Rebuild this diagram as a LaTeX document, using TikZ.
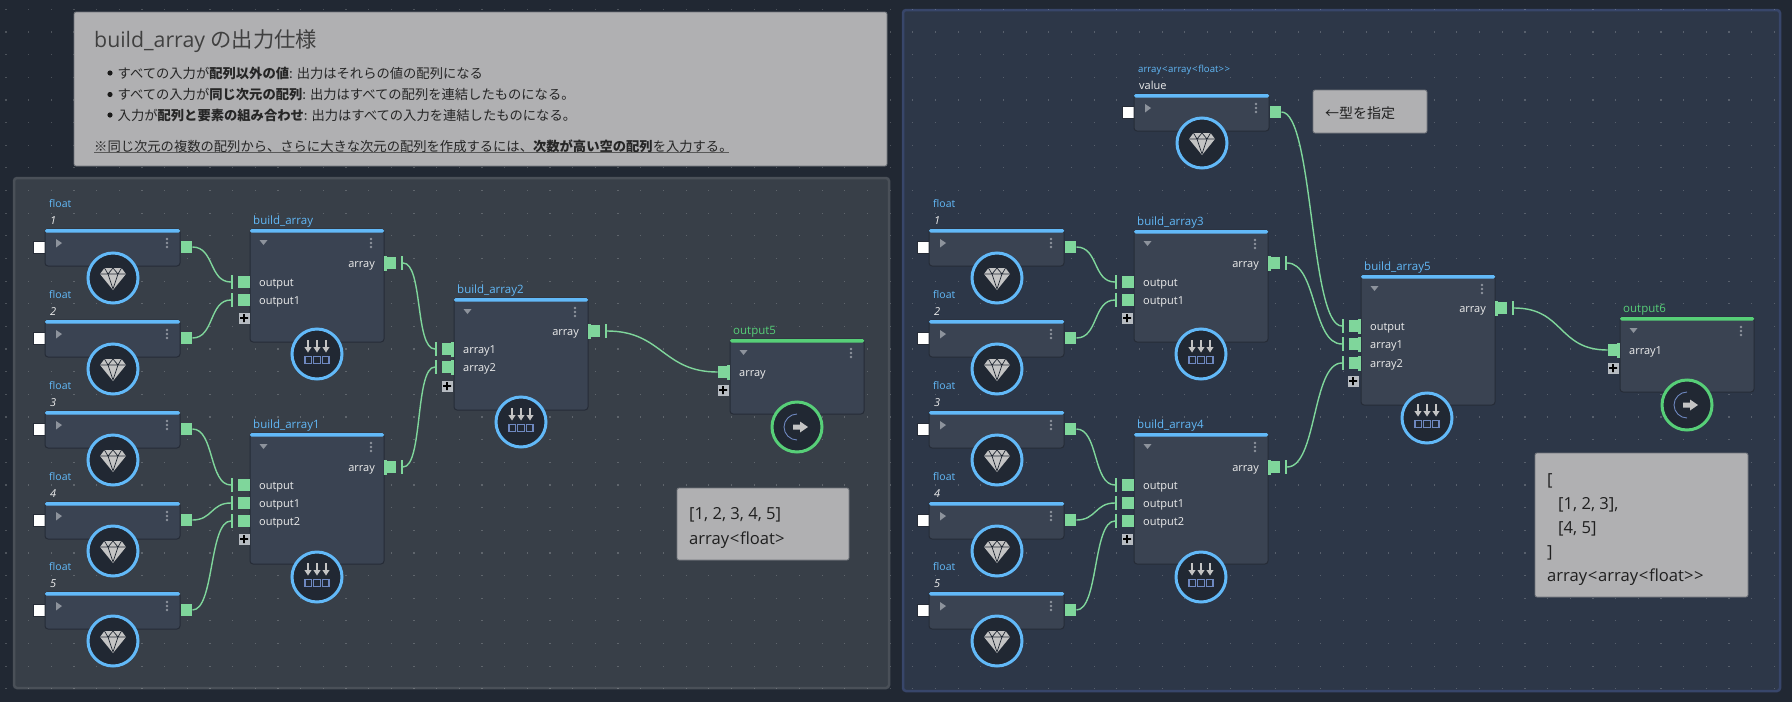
\documentclass[tikz,border=0pt]{standalone}
\usepackage{fontspec}
\setmainfont{Open Sans}
\newfontfamily\jp{Noto Sans CJK JP}
\definecolor{bgc}{HTML}{212833}
\definecolor{lpanel}{HTML}{383F48}
\definecolor{rpanel}{HTML}{2D3748}
\definecolor{lborder}{HTML}{4A5058}
\definecolor{rborder}{HTML}{38466A}
\definecolor{body}{HTML}{3A4352}
\definecolor{edge}{HTML}{262C37}
\definecolor{blu}{HTML}{62B9F8}
\definecolor{grn}{HTML}{57CF78}
\definecolor{port}{HTML}{7FD69B}
\definecolor{note}{HTML}{B0B0B2}
\definecolor{notee}{HTML}{70747A}
\definecolor{iconb}{HTML}{6E88C0}
\definecolor{icong}{HTML}{C4C4C4}
\definecolor{mut}{HTML}{8D939C}
\definecolor{ink}{HTML}{EDEDED}
\definecolor{plusbg}{HTML}{B6BBC1}
\newcommand{\gt}{{>}\kern.7pt}
\newcommand{\lt}{\kern.7pt{<}\kern.7pt}
\tikzset{
  boxbody/.style={rectangle,rounded corners=3,fill=body,draw=edge,line width=1,inner sep=0},
  whitesq/.style={rectangle,fill=white,draw=edge,line width=.4,minimum size=12,inner sep=0},
  sq/.style={rectangle,fill=port,minimum size=11.5,inner sep=0},
  tickm/.style={rectangle,fill=port,minimum width=1.8,minimum height=14,inner sep=0},
  plus/.style={rectangle,fill=plusbg,minimum size=11,inner sep=0},
  wire/.style={draw=port,line width=1.4},
  hub/.style={circle,fill=bgc,line width=3,minimum size=50,inner sep=0},
  lab/.style={text=ink,inner sep=0,anchor=base west,font=\fontsize{11}{12}\selectfont},
  labr/.style={lab,anchor=base east},
  typel/.style={text=blu,inner sep=0,anchor=base west,font=\fontsize{10.5}{12}\selectfont},
  titleb/.style={text=blu,inner sep=0,anchor=base west,font=\fontsize{11.5}{13}\selectfont},
  titleg/.style={text=grn,inner sep=0,anchor=base west,font=\fontsize{11.5}{13}\selectfont},
  notebox/.style={rectangle,rounded corners=2,fill=note,draw=notee,line width=.8,inner sep=0},
  notet/.style={text=black!88,inner sep=0,anchor=base west,font=\fontsize{16.6}{18}\selectfont},
  toptext/.style={text=black!85,inner sep=0,anchor=base west,font=\jp\fontsize{13.3}{15}\selectfont},
}
\newcommand{\nodebox}[6]{%
  \node[boxbody,minimum width=#4,minimum height=#5] (#1) at ({#2+#4/2},{#3+#5/2}) {};
  \fill[#6,rounded corners=1.5] (#2,#3) rectangle ({#2+#4},{#3+3.5});
  \fill[mut] ({#2+#4-13},{#3+10}) circle (1.3) ({#2+#4-13},{#3+14}) circle (1.3) ({#2+#4-13},{#3+18}) circle (1.3);
}
\newcommand{\tridown}[2]{\fill[mut] ({#1+9.5},{#2+11}) -- ({#1+17.5},{#2+11}) -- ({#1+13.5},{#2+16}) -- cycle;}
\newcommand{\triright}[2]{\fill[mut] ({#1+11},{#2+10}) -- ({#1+17},{#2+14}) -- ({#1+11},{#2+18.5}) -- cycle;}
\newcommand{\diamondicon}[3]{%
  \node[hub,draw=blu] (#1) at (#2,#3) {};
  \begin{scope}[shift={(#2,#3)}]
    \fill[icong] (-8.5,-10) -- (8.5,-10) -- (13,-4) -- (0,12) -- (-13,-4) -- cycle;
    \draw[bgc,line width=.7,line join=round] (-13,-4) -- (13,-4) (-5,-4) -- (0,11) -- (5,-4) (-8.5,-10) -- (-5,-4) -- (0,-10) -- (5,-4) -- (8.5,-10);
  \end{scope}
}
\newcommand{\arrayicon}[3]{%
  \node[hub,draw=blu] (#1) at (#2,#3) {};
  \begin{scope}[shift={(#2,#3)}]
    \foreach \dx in {-9,0,9}{
      \fill[icong] ({\dx-1},-14) rectangle ({\dx+1},-7);
      \fill[icong] ({\dx-3.6},-7) -- ({\dx+3.6},-7) -- (\dx,-1.5) -- cycle;
    }
    \foreach \dx in {-8.7,0,8.7}{
      \draw[iconb,line width=1.1] ({\dx-3.3},2.5) rectangle ({\dx+3.3},9.5);
    }
  \end{scope}
}
\newcommand{\outputicon}[3]{%
  \node[hub,draw=grn] (#1) at (#2,#3) {};
  \begin{scope}[shift={(#2,#3)}]
    \draw[iconb,line width=.9] (0,-13) .. controls (-7,-13) and (-13,-7) .. (-13,0) .. controls (-13,7) and (-7,13) .. (0,13);
    \fill[icong] (-4,-2.5) -- (3,-2.5) -- (3,-5.5) -- (11,0) -- (3,5.5) -- (3,2.5) -- (-4,2.5) -- cycle;
  \end{scope}
}
\newcommand{\floatnode}[5]{%
  \node[whitesq] (#1in) at ({#2-6},{#3+18}) {};
  \nodebox{#1}{#2}{#3}{135}{37}{blu}
  \triright{#2}{#3}
  \node[sq] (#1out) at ({#2+141.5},{#3+18}) {};
  \diamondicon{#1hub}{#2+68}{#3+49}
  \node[typel] at ({#2+4},{#3-22}) {#4};
  \node[lab] at ({#2+5},{#3-5}) {#5};
}
\newcommand{\inplain}[4]{% name x y label
  \node[tickm] (#1t) at ({#2-18},#3) {};
  \node[sq] (#1) at ({#2-6},#3) {};
  \node[lab] at ({#2+9},{#3+4}) {#4};
}
\newcommand{\inflange}[4]{%
  \node[tickm] (#1t) at ({#2-18},#3) {};
  \node[sq] (#1) at ({#2-6.5},#3) {};
  \fill[port] ({#2-3},{#3-7.5}) rectangle (#2,{#3+7.5});
  \node[lab] at ({#2+9},{#3+4}) {#4};
}
\newcommand{\outflange}[4]{% name boxright y label
  \node[sq] (#1) at ({#2+6.5},#3) {};
  \fill[port] (#2,{#3-7.5}) rectangle ({#2+3},{#3+7.5});
  \node[tickm] (#1t) at ({#2+18},#3) {};
  \node[labr] at ({#2-9},{#3+4.5}) {#4};
}
\newcommand{\plusmark}[3]{%
  \node[plus] (#1) at (#2,#3) {};
  \fill[black] ({#2-4},{#3-.9}) rectangle ({#2+4},{#3+.9}) ({#2-.9},{#3-4}) rectangle ({#2+.9},{#3+4});
}
\newcommand{\wirecurve}[3]{\draw[wire] (#1.east) .. controls +(#3,0) and +(-#3,0) .. (#2.west);}
\begin{document}
\begin{tikzpicture}[x=1pt,y=-1pt]
\fill[bgc] (0,0) rectangle (1792,702);
% panels
\draw[fill=lpanel,draw=lborder,line width=2.5,rounded corners=3] (14,178) rectangle (889,688);
\draw[fill=rpanel,draw=rborder,line width=2.5,rounded corners=3] (903,10) rectangle (1780,691);
% grid
\foreach \i in {0,...,78}{
  \foreach \j in {0,...,30}{
    \fill[white,opacity=.2] ({6+\i*22.67-.6},{9.3+\j*22.65-.6}) rectangle +(1.2,1.2);
  }
}
% top note
\node[notebox,minimum width=813,minimum height=154] (topnote) at (480.5,89) {};
\node[text=black!75,inner sep=0,anchor=base west,font=\fontsize{21.3}{24}\selectfont] (toptitle) at (94,47) {build\_array {\jp の出力仕様}};
\foreach \yy in {73,94.5,115}{\fill[black!90] (110,\yy) circle (2.6);}
\node[toptext] (l1) at (117.5,78) {すべての入力が{\bfseries 配列以外の値}: 出力はそれらの値の配列になる};
\node[toptext] (l2) at (117.5,99.5) {すべての入力が{\bfseries 同じ次元の配列}: 出力はすべての配列を連結したものになる。};
\node[toptext] (l3) at (117.5,120) {入力が{\bfseries 配列と要素の組み合わせ}: 出力はすべての入力を連結したものになる。};
\node[toptext] (l4) at (94,151) {※同じ次元の複数の配列から、さらに大きな次元の配列を作成するには、{\bfseries 次数が高い空の配列}を入力する。};
\draw[black!65,line width=1.3] (94,152.5) -- (729,152.5);
% ---------- left panel
\floatnode{fa}{45}{229}{float}{\itshape 1}
\floatnode{fb}{45}{320}{float}{\itshape 2}
\floatnode{fc}{45}{411}{float}{\itshape 3}
\floatnode{fd}{45}{502}{float}{\itshape 4}
\floatnode{fe}{45}{592}{float}{\itshape 5}
% build_array
\nodebox{ba}{250}{229}{134}{113}{blu}\tridown{250}{229}
\node[titleb] at (253,224) {build\_array};
\inplain{baa}{250}{282}{output}
\inplain{bab}{250}{300}{output1}
\plusmark{bap}{244}{318}
\outflange{bao}{384}{263}{array}
\arrayicon{bah}{317}{354}
% build_array1
\nodebox{bb}{250}{433}{134}{131}{blu}\tridown{250}{433}
\node[titleb] at (253,428) {build\_array1};
\inplain{bba}{250}{485}{output}
\inplain{bbb}{250}{503}{output1}
\inplain{bbc}{250}{521}{output2}
\plusmark{bbp}{244}{539}
\outflange{bbo}{384}{467}{array}
\arrayicon{bbh}{317}{577}
% build_array2
\nodebox{bc}{454}{298}{134}{112}{blu}\tridown{454}{298}
\node[titleb] at (457,293) {build\_array2};
\inflange{bca}{454}{349}{array1}
\inflange{bcb}{454}{367}{array2}
\plusmark{bcp}{447}{386}
\outflange{bco}{588}{331}{array}
\arrayicon{bch}{521}{422}
% output5
\nodebox{oa}{730}{339}{134}{75}{grn}\tridown{730}{339}
\node[titleg] at (733,334) {output5};
\node[sq] (oaa) at (723.5,372) {};
\fill[port] (727,364.5) rectangle (730,379.5);
\node[lab] at (739,376) {array};
\plusmark{oap}{723}{390}
\outputicon{oah}{797}{427}
\wirecurve{faout}{baat}{22}
\wirecurve{fbout}{babt}{22}
\wirecurve{fcout}{bbat}{22}
\wirecurve{fdout}{bbbt}{20}
\wirecurve{feout}{bbct}{22}
\wirecurve{baot}{bcat}{20}
\wirecurve{bbot}{bcbt}{20}
\wirecurve{bcot}{oaa}{55}
% note
\node[notebox,minimum width=172,minimum height=72] (na) at (763,524) {};
\node[notet] at (689,519) {[1, 2, 3, 4, 5]};
\node[notet] at (689,544) {array\lt float\gt};
% ---------- right panel
\floatnode{ga}{929}{229}{float}{\itshape 1}
\floatnode{gb}{929}{320}{float}{\itshape 2}
\floatnode{gc}{929}{411}{float}{\itshape 3}
\floatnode{gd}{929}{502}{float}{\itshape 4}
\floatnode{ge}{929}{592}{float}{\itshape 5}
\floatnode{gv}{1134}{94}{\fontsize{9.6}{11}\selectfont array\lt array\lt float\gt\gt}{value}
% build_array3
\nodebox{ca}{1134}{230}{134}{112}{blu}\tridown{1134}{230}
\node[titleb] at (1137,225) {build\_array3};
\inplain{caa}{1134}{282}{output}
\inplain{cab}{1134}{300}{output1}
\plusmark{cap}{1127}{318}
\outflange{cao}{1268}{263}{array}
\arrayicon{cah}{1201}{354}
% build_array4
\nodebox{cb}{1134}{433}{134}{131}{blu}\tridown{1134}{433}
\node[titleb] at (1137,428) {build\_array4};
\inplain{cba}{1134}{485}{output}
\inplain{cbb}{1134}{503}{output1}
\inplain{cbc}{1134}{521}{output2}
\plusmark{cbp}{1127}{539}
\outflange{cbo}{1268}{467}{array}
\arrayicon{cbh}{1201}{577}
% build_array5
\nodebox{cc}{1361}{275}{134}{130}{blu}\tridown{1361}{275}
\node[titleb] at (1364,270) {build\_array5};
\inflange{cca}{1361}{326}{output}
\inflange{ccb}{1361}{344}{array1}
\inflange{ccc}{1361}{363}{array2}
\plusmark{ccp}{1353}{381}
\outflange{cco}{1495}{308}{array}
\arrayicon{cch}{1427}{418}
% output6
\nodebox{ob}{1620}{317}{134}{75}{grn}\tridown{1620}{317}
\node[titleg] at (1623,312) {output6};
\node[sq] (oba) at (1613.5,350) {};
\fill[port] (1617,342.5) rectangle (1620,357.5);
\node[lab] at (1629,354) {array1};
\plusmark{obp}{1613}{368}
\outputicon{obh}{1687}{405}
\wirecurve{gaout}{caat}{22}
\wirecurve{gbout}{cabt}{22}
\wirecurve{gcout}{cbat}{22}
\wirecurve{gdout}{cbbt}{20}
\wirecurve{geout}{cbct}{22}
\wirecurve{gvout}{ccat}{32}
\wirecurve{caot}{ccbt}{30}
\wirecurve{cbot}{ccct}{30}
\wirecurve{ccot}{oba}{50}
% notes
\node[notebox,minimum width=114,minimum height=43] (nb) at (1370,111.5) {};
\node[text=black!88,inner sep=0,anchor=base west,font=\jp\fontsize{14}{16}\selectfont] at (1325,118) {←型を指定};
\node[notebox,minimum width=213,minimum height=144] (nc) at (1641.5,525) {};
\node[notet] at (1547,485) {[};
\node[notet] at (1558,509) {[1, 2, 3],};
\node[notet] at (1558,533) {[4, 5]};
\node[notet] at (1547,557) {]};
\node[notet] at (1547,581) {array\lt array\lt float\gt\gt};
\end{tikzpicture}
\end{document}
